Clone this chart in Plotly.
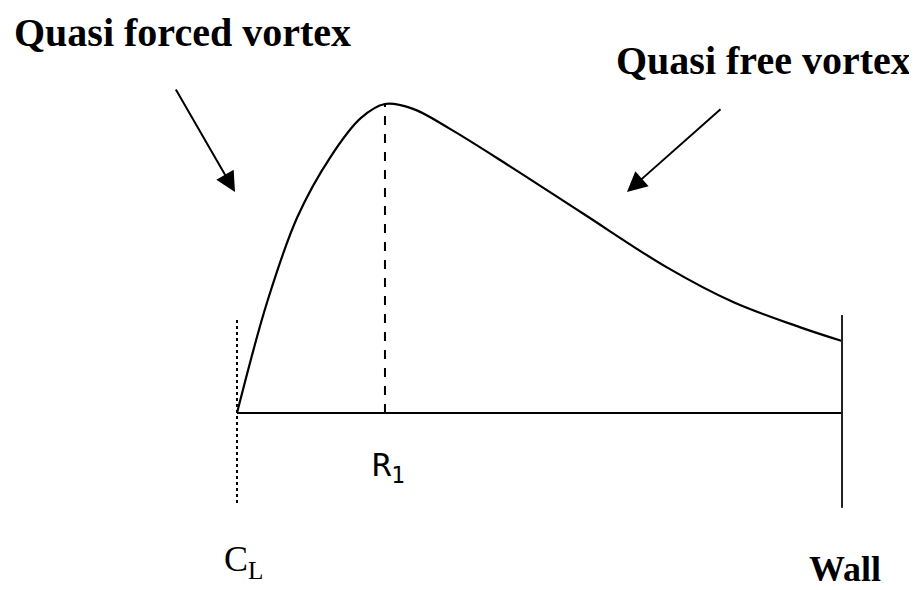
import plotly.graph_objects as go

# radial position (0 = centre line C_L, 1 = wall) and tangential velocity (peak = 1)
r_vals = [0.0, 0.05, 0.10, 0.155, 0.205, 0.2446, 0.29, 0.35, 0.45, 0.57, 0.71, 0.82, 0.93, 1.0]
v_vals = [0.0, 0.36, 0.635, 0.83, 0.955, 1.0, 0.985, 0.922, 0.80, 0.648, 0.472, 0.359, 0.278, 0.233]
r_peak = 0.2446
r_wall = 1.0
labels = {"forced": "Quasi forced vortex", "free": "Quasi free vortex",
          "r1": "R<sub>1</sub>", "cl": "C<sub>L</sub>", "wall": "Wall"}

fig = go.Figure()
fig.add_trace(go.Scatter(x=r_vals, y=v_vals, mode="lines",
                         line=dict(color="black", width=2.2, shape="spline", smoothing=1.0),
                         hoverinfo="skip", showlegend=False))
fig.add_trace(go.Scatter(x=[0, r_wall], y=[0, 0], mode="lines", line=dict(color="black", width=2.2),
                         hoverinfo="skip", showlegend=False))
fig.add_trace(go.Scatter(x=[0, 0], y=[0.301, -0.298], mode="lines", line=dict(color="black", width=2, dash="dot"),
                         hoverinfo="skip", showlegend=False))
fig.add_trace(go.Scatter(x=[r_peak, r_peak], y=[0, 1.0], mode="lines", line=dict(color="black", width=2, dash="dash"),
                         hoverinfo="skip", showlegend=False))
fig.add_trace(go.Scatter(x=[r_wall, r_wall], y=[0.317, -0.307], mode="lines", line=dict(color="#222222", width=2),
                         hoverinfo="skip", showlegend=False))

serif_b = dict(family="Liberation Serif", size=40, color="black")
fig.add_annotation(x=-0.0893, y=1.233, xref="x", yref="y", text="<b>" + labels["forced"] + "</b>",
                   showarrow=False, font=serif_b, xanchor="center", yanchor="middle")
fig.add_annotation(x=0.8707, y=1.142, xref="x", yref="y", text="<b>" + labels["free"] + "</b>",
                   showarrow=False, font=serif_b, xanchor="center", yanchor="middle")
fig.add_annotation(x=0.2512, y=-0.175, xref="x", yref="y", text=labels["r1"],
                   showarrow=False, font=dict(family="DejaVu Sans Mono", size=32, color="black"))
fig.add_annotation(x=0.01, y=-0.48, xref="x", yref="y", text=labels["cl"],
                   showarrow=False, font=dict(family="Liberation Serif", size=36, color="black"))
fig.add_annotation(x=0.005 + r_wall, y=-0.505, xref="x", yref="y", text="<b>" + labels["wall"] + "</b>",
                   showarrow=False, font=dict(family="Liberation Serif", size=36, color="black"))

fig.add_annotation(x=-0.0033, y=0.715, ax=-0.1025, ay=1.0518, xref="x", yref="y", axref="x", ayref="y",
                   text="", showarrow=True, arrowhead=2, arrowsize=2, arrowwidth=2, arrowcolor="black")
fig.add_annotation(x=0.6446, y=0.715, ax=0.8017, ay=0.987, xref="x", yref="y", axref="x", ayref="y",
                   text="", showarrow=True, arrowhead=2, arrowsize=2, arrowwidth=2, arrowcolor="black")

fig.update_xaxes(range=[-0.3785, 1.1240], visible=False, fixedrange=True)
fig.update_yaxes(range=[-0.5728, 1.3107], visible=False, fixedrange=True)
fig.update_layout(width=909, height=582, margin=dict(l=0, r=0, t=0, b=0),
                  paper_bgcolor="white", plot_bgcolor="white", showlegend=False)

fig.write_html("out.html")
